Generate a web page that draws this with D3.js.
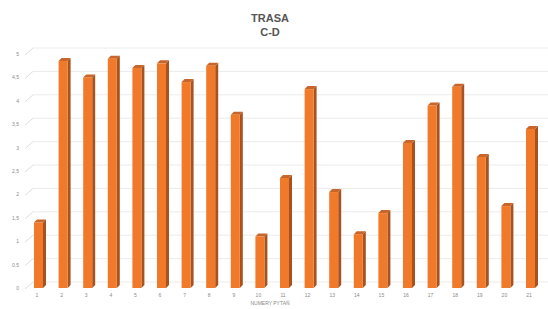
<!DOCTYPE html>
<html lang="pl">
<head>
<meta charset="UTF-8">
<title>TRASA C-D</title>
<script src="https://d3js.org/d3.v7.min.js"></script>
<style>
  body { margin: 0; background: #fff; font-family: "Liberation Sans", Arial, sans-serif; }
  .tick-label { font-size: 5px; fill: #8a8a8a; }
  .title { font-size: 11px; font-weight: bold; fill: #555; text-anchor: middle; }
</style>
</head>
<body>
<svg width="548" height="309"></svg>
<script>
// values
const questions = d3.range(1, 22).map(String);
const scores = [1.4, 4.85, 4.5, 4.9, 4.7, 4.8, 4.4, 4.75, 3.7, 1.1, 2.35,
                4.25, 2.05, 1.15, 1.6, 3.1, 3.9, 4.3, 2.8, 1.75, 3.4];
const yTicks = [0, 0.5, 1, 1.5, 2, 2.5, 3, 3.5, 4, 4.5, 5];
const yTickText = ["0", "0,5", "1", "1,5", "2", "2,5", "3", "3,5", "4", "4,5", "5"];

const svg = d3.select("svg");
const depthX = 8, depthY = 7;   // back wall offset
const barDX = 3, barDY = 3;     // bar side/top depth

const x = d3.scaleBand().domain(questions).range([24.7, 541.3]);
const y = d3.scaleLinear().domain([0, 5]).range([288, 54]);

// title
svg.append("text").attr("class", "title").attr("x", 270).attr("y", 22).text("TRASA");
svg.append("text").attr("class", "title").attr("x", 270).attr("y", 36).text("C-D");

// gridlines on back wall + diagonal connectors
const grid = svg.append("g");
yTicks.forEach(t => {
  grid.append("line")
    .attr("x1", 25).attr("y1", y(t) + 1)
    .attr("x2", 25 + depthX).attr("y2", y(t) - depthY + 1)
    .attr("stroke", "#cfcfcf").attr("stroke-width", 0.7);
  grid.append("line")
    .attr("x1", 25 + depthX).attr("y1", y(t) - depthY + 1)
    .attr("x2", 548).attr("y2", y(t) - depthY + 1)
    .attr("stroke", "#e6e6e6").attr("stroke-width", 0.8);
});

// y labels
svg.append("g").selectAll("text").data(yTicks).join("text")
  .attr("class", "tick-label")
  .attr("x", 19).attr("y", d => y(d) + 2)
  .attr("text-anchor", "end")
  .text((d, i) => yTickText[i]);

// bars
const bars = svg.append("g").selectAll("g").data(scores).join("g");
const bw = 9;
const bx = (d, i) => x.bandwidth() / 2 + x(questions[i]) - 3;

bars.append("path")   // side
  .attr("fill", "#a8521f")
  .attr("d", (d, i) => {
    const x0 = bx(d, i) + bw, yt = y(d);
    return `M${x0},${yt} L${x0 + barDX},${yt - barDY} L${x0 + barDX},${y(0) - barDY} L${x0},${y(0)} Z`;
  });
bars.append("path")   // top
  .attr("fill", "#c7652a")
  .attr("d", (d, i) => {
    const x0 = bx(d, i), yt = y(d);
    return `M${x0},${yt} L${x0 + barDX},${yt - barDY} L${x0 + bw + barDX},${yt - barDY} L${x0 + bw},${yt} Z`;
  });
bars.append("rect")   // front
  .attr("fill", "#f07a2a")
  .attr("x", bx)
  .attr("y", d => y(d))
  .attr("width", bw)
  .attr("height", d => y(0) - y(d));

// x labels
svg.append("g").selectAll("text").data(questions).join("text")
  .attr("class", "tick-label")
  .attr("x", d => x(d) + x.bandwidth() / 2)
  .attr("y", 297)
  .attr("text-anchor", "middle")
  .text(d => d);

svg.append("text").attr("class", "tick-label")
  .attr("x", 270).attr("y", 305).attr("text-anchor", "middle")
  .text("NUMERY PYTAŃ");
</script>
</body>
</html>
